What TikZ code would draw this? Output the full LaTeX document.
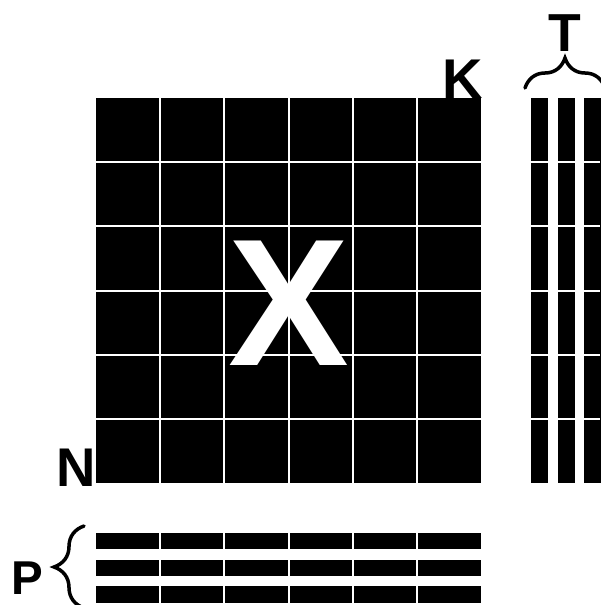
\documentclass[tikz,border=0pt]{standalone}
\usepackage{fontspec}
\setmainfont{Liberation Sans}
\usetikzlibrary{decorations.pathreplacing}
\begin{document}
\begin{tikzpicture}[x=1pt,y=-1pt,
  lbl/.style={anchor=base,inner sep=0pt,font=\bfseries},
  gridline/.style={white,line width=2pt},
  bracestyle/.style={decorate,decoration={brace,amplitude=30pt},line width=3.5pt,line cap=round}]
\useasboundingbox (0,0) rectangle (600,605);
% main matrix
\fill[black] (96,98) rectangle (481,483);
\foreach \i in {1,...,5}{
  \draw[gridline] ({96+64.17*\i},98) -- ({96+64.17*\i},483);
  \draw[gridline] (96,{98+64.17*\i}) -- (481,{98+64.17*\i});
}
% T columns
\foreach \cx in {531,557.5,584}{
  \fill[black] (\cx,98) rectangle ({\cx+17},483);
}
\foreach \i in {1,...,5}{
  \draw[gridline] (528,{98+64.17*\i}) -- (600,{98+64.17*\i});
}
% P rows
\foreach \ry in {532.7,559.5,586}{
  \fill[black] (96,\ry) rectangle (481,{\ry+16.6});
}
\foreach \i in {1,...,5}{
  \draw[gridline] ({96+64.17*\i},530) -- ({96+64.17*\i},605);
}
% labels
\node[lbl,font=\bfseries\fontsize{181}{181}\selectfont,text=white] (X) at (289,365) {X};
\node[lbl,font=\bfseries\fontsize{56}{56}\selectfont] (K) at (462.5,98) {K};
\node[lbl,font=\bfseries\fontsize{54.5}{54.5}\selectfont] (N) at (76.5,486) {N};
\node[lbl,font=\bfseries\fontsize{53.5}{53.5}\selectfont] (T) at (565,51) {T};
\node[lbl,font=\bfseries\fontsize{47.5}{47.5}\selectfont] (P) at (27.7,594) {P};
% braces
\coordinate (tb1) at (525,88);
\coordinate (tb2) at (605,88);
\draw[bracestyle] (tb1) -- (tb2);
\coordinate (pb1) at (84,608);
\coordinate (pb2) at (84,526);
\draw[bracestyle] (pb1) -- (pb2);
\end{tikzpicture}
\end{document}
